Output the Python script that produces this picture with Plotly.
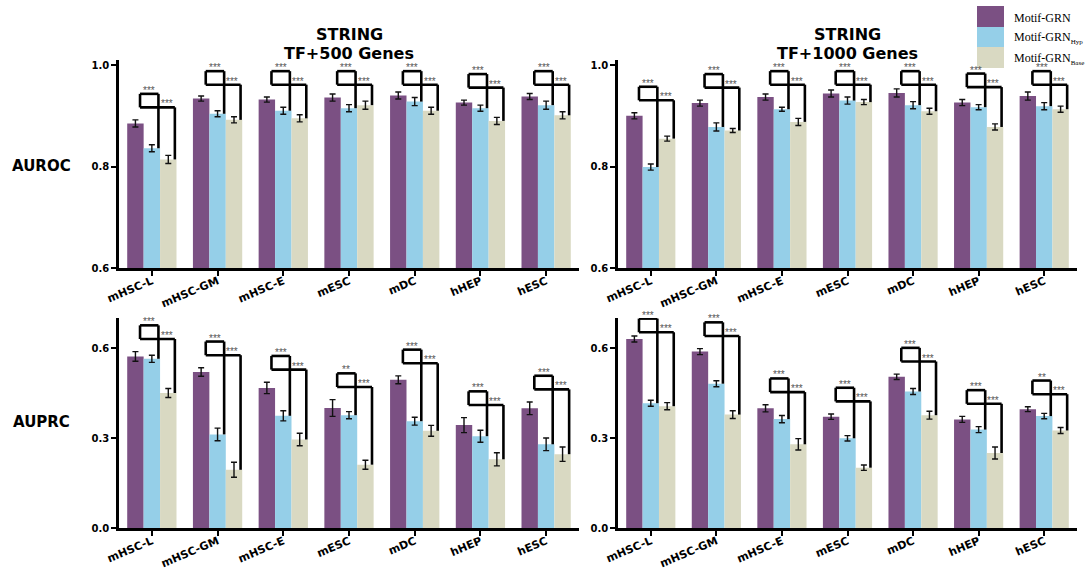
import plotly.graph_objects as go

W, H = 1086, 568

categories = ["mHSC-L", "mHSC-GM", "mHSC-E", "mESC", "mDC", "hHEP", "hESC"]
series_names = ["Motif-GRN", "Motif-GRN<sub>Hyp</sub>", "Motif-GRN<sub>Base</sub>"]
colors = ["#7B5083", "#95CFE8", "#D9D9C2"]

# AUROC, TF+500
auroc_500 = [
    [0.885, 0.934, 0.932, 0.936, 0.940, 0.926, 0.938],
    [0.836, 0.904, 0.910, 0.915, 0.928, 0.915, 0.921],
    [0.814, 0.892, 0.895, 0.921, 0.910, 0.890, 0.901],
]
auroc_500_err = [
    [0.007, 0.005, 0.005, 0.007, 0.007, 0.005, 0.006],
    [0.007, 0.006, 0.007, 0.007, 0.008, 0.006, 0.008],
    [0.008, 0.006, 0.007, 0.008, 0.007, 0.007, 0.007],
]
# AUROC, TF+1000
auroc_1000 = [
    [0.900, 0.925, 0.937, 0.944, 0.945, 0.926, 0.939],
    [0.799, 0.878, 0.913, 0.930, 0.921, 0.917, 0.919],
    [0.855, 0.871, 0.888, 0.927, 0.909, 0.878, 0.913],
]
auroc_1000_err = [
    [0.006, 0.006, 0.006, 0.007, 0.008, 0.006, 0.008],
    [0.006, 0.008, 0.004, 0.007, 0.007, 0.005, 0.007],
    [0.005, 0.004, 0.007, 0.005, 0.006, 0.006, 0.006],
]
# AUPRC, TF+500
auprc_500 = [
    [0.572, 0.520, 0.467, 0.400, 0.494, 0.343, 0.399],
    [0.564, 0.312, 0.374, 0.376, 0.356, 0.306, 0.279],
    [0.450, 0.194, 0.295, 0.211, 0.324, 0.229, 0.246],
]
auprc_500_err = [
    [0.016, 0.014, 0.019, 0.028, 0.013, 0.025, 0.021],
    [0.012, 0.021, 0.017, 0.012, 0.013, 0.020, 0.021],
    [0.015, 0.025, 0.021, 0.015, 0.018, 0.022, 0.024],
]
# AUPRC, TF+1000
auprc_1000 = [
    [0.630, 0.588, 0.399, 0.371, 0.504, 0.362, 0.396],
    [0.416, 0.481, 0.363, 0.299, 0.455, 0.328, 0.373],
    [0.406, 0.378, 0.279, 0.201, 0.376, 0.250, 0.325],
]
auprc_1000_err = [
    [0.010, 0.010, 0.012, 0.009, 0.009, 0.010, 0.008],
    [0.010, 0.010, 0.012, 0.009, 0.010, 0.010, 0.009],
    [0.012, 0.013, 0.019, 0.009, 0.013, 0.020, 0.010],
]

# significance labels: [vs Hyp, vs Base] per cell line
sig_auroc_500 = [["***", "***"]] * 7
sig_auroc_1000 = [["***", "***"]] * 7
sig_auprc_500 = [["***", "***"], ["***", "***"], ["***", "***"], ["**", "***"],
                 ["***", "***"], ["***", "***"], ["***", "***"]]
sig_auprc_1000 = [["***", "***"], ["***", "***"], ["***", "***"], ["***", "***"],
                  ["***", "***"], ["***", "***"], ["**", "***"]]

panel_titles = ["STRING", "TF+500 Genes", "TF+1000 Genes"]
row_labels = ["AUROC", "AUPRC"]

FONT = "DejaVu Sans"

# panel geometry (pixels)
x_left = (119, 579)
x_right = (618, 1077)
y_top = (60, 268)
y_bot = (318, 528)


def xdom(p):
    return [p[0] / W, p[1] / W]


def ydom(p):
    return [1 - p[1] / H, 1 - p[0] / H]


panels = [
    # (axis suffix, values, errors, sigs, xpix, ypix, yrange, tickvals, bracket ceiling)
    ("", auroc_500, auroc_500_err, sig_auroc_500, x_left, y_top, [0.6, 1.01], [0.6, 0.8, 1.0], 0.988),
    ("2", auroc_1000, auroc_1000_err, sig_auroc_1000, x_right, y_top, [0.6, 1.01], [0.6, 0.8, 1.0], 0.988),
    ("3", auprc_500, auprc_500_err, sig_auprc_500, x_left, y_bot, [0.0, 0.7], [0.0, 0.3, 0.6], 0.698),
    ("4", auprc_1000, auprc_1000_err, sig_auprc_1000, x_right, y_bot, [0.0, 0.7], [0.0, 0.3, 0.6], 0.698),
]

fig = go.Figure()
shapes = []
annotations = []
xpos = list(range(len(categories)))


def seg(xa, ya, x0, y0, x1, y1):
    return dict(type="line", xref=xa, yref=ya, x0=x0, y0=y0, x1=x1, y1=y1,
                line=dict(color="black", width=2.6))


for suf, vals, errs, sigs, xp, yp, yr, tv, ceil in panels:
    xa, ya = "x" + suf, "y" + suf
    for s in range(3):
        fig.add_trace(go.Bar(
            x=xpos, y=vals[s], name=series_names[s], xaxis=xa, yaxis=ya,
            marker=dict(color=colors[s], line=dict(width=0)),
            error_y=dict(type="data", array=errs[s], color="#111111",
                         thickness=1.4, width=3),
            offsetgroup=str(s), showlegend=False,
        ))
    lay_x = dict(domain=xdom(xp), range=[-0.5, 6.5], tickvals=xpos, ticktext=categories,
                 tickangle=-23, showline=True, linecolor="black", linewidth=2.5,
                 ticks="outside", ticklen=5, tickwidth=2, tickcolor="black",
                 ticklabelstandoff=-5,
                 showgrid=False, zeroline=False, anchor=ya, automargin=False,
                 tickfont=dict(family=FONT, size=11, color="black", weight="bold"))
    lay_y = dict(domain=ydom(yp), range=yr, tickvals=tv, ticktext=[f"{v:.1f}" for v in tv],
                 showline=True, linecolor="black", linewidth=2.5,
                 ticks="outside", ticklen=5, tickwidth=2, tickcolor="black",
                 showgrid=False, zeroline=False, anchor=xa, automargin=False,
                 tickfont=dict(family=FONT, size=10, color="black", weight="bold"))
    fig.update_layout(**{"xaxis" + suf: lay_x, "yaxis" + suf: lay_y})

    # significance brackets: upper one to Hyp, lower one to Base
    span = yr[1] - yr[0]
    for i in xpos:
        base = max(vals[s][i] + errs[s][i] for s in range(3))
        y1 = min(base + 0.125 * span, ceil)
        y2 = y1 - 0.065 * span
        xl, xb, xc = i - 0.18, i + 0.10, i + 0.35
        shapes += [
            seg(xa, ya, xl, y2, xl, y1),
            seg(xa, ya, xl, y1, xb, y1),
            seg(xa, ya, xb, y1, xb, vals[1][i]),
            seg(xa, ya, xl, y2, xc, y2),
            seg(xa, ya, xc, y2, xc, vals[2][i]),
        ]
        for lbl, xm, yy in ((sigs[i][0], (xl + xb) / 2, y1), (sigs[i][1], (xb + xc) / 2, y2)):
            annotations.append(dict(text=lbl, x=xm, y=yy, xref=xa, yref=ya,
                                    showarrow=False, yanchor="bottom", yshift=-4,
                                    font=dict(family="Liberation Sans", size=10, color="#555555")))

# panel titles
for cx, sub in ((sum(x_left) / 2, panel_titles[1]), (sum(x_right) / 2, panel_titles[2])):
    annotations.append(dict(text=panel_titles[0], x=cx / W, y=1 - 35 / H, xref="paper", yref="paper",
                            showarrow=False, xanchor="center", yanchor="middle",
                            font=dict(family=FONT, size=16, color="black", weight="bold")))
    annotations.append(dict(text=sub, x=cx / W, y=1 - 53 / H, xref="paper", yref="paper",
                            showarrow=False, xanchor="center", yanchor="middle",
                            font=dict(family=FONT, size=16, color="black", weight="bold")))

# row labels
for lbl, cy in ((row_labels[0], 166), (row_labels[1], 422)):
    annotations.append(dict(text=lbl, x=41 / W, y=1 - cy / H, xref="paper", yref="paper",
                            showarrow=False, xanchor="center", yanchor="middle",
                            font=dict(family=FONT, size=15, color="black", weight="bold")))

# legend swatches
sw_x0, sw_x1 = 977, 1004
sw_rows = [(6, 27), (27, 47), (47, 68)]
for s, (t, b) in enumerate(sw_rows):
    shapes.append(dict(type="rect", xref="paper", yref="paper",
                       x0=sw_x0 / W, x1=sw_x1 / W, y0=1 - b / H, y1=1 - t / H,
                       fillcolor=colors[s], line=dict(width=0)))
    annotations.append(dict(text=series_names[s].replace("<sub>", "<sub><span style='font-size:7px'>")
                            .replace("</sub>", "</span></sub>"),
                            x=1012 / W, y=1 - (t + b) / 2 / H - 0.002, xref="paper", yref="paper",
                            showarrow=False, xanchor="left", yanchor="middle",
                            font=dict(family="Liberation Serif", size=12, color="black")))

fig.update_layout(
    width=W, height=H, margin=dict(l=0, r=0, t=0, b=0),
    paper_bgcolor="white", plot_bgcolor="white",
    barmode="group", bargap=0.25, bargroupgap=0,
    shapes=shapes, annotations=annotations, showlegend=False,
)

fig.write_html("out.html")
